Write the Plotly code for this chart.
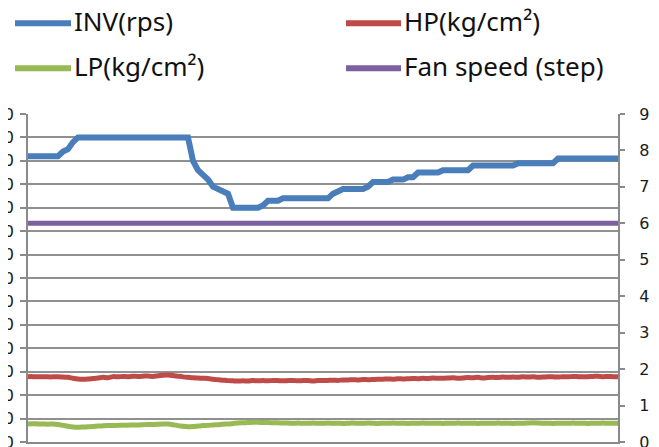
import plotly.graph_objects as go

# ---- data ----
inv_rps = ([122] * 7 + [124, 125, 128] + [130] * 23 +
           [120, 116, 114, 112, 109, 108, 107, 106] + [100] * 6 + [101] + [103] * 3 +
           [104] * 10 + [106, 107] + [108] * 5 + [109] + [111] * 4 + [112] * 3 +
           [113] * 2 + [115] * 5 + [116] * 6 + [118] * 9 + [119] * 8 + [121] * 13)

hp_kgcm2 = [27.9, 27.9, 27.8, 27.9, 27.8, 27.8, 27.9, 27.7, 27.6,
            27.2, 26.9, 26.8, 26.9,
            27.1, 27.3, 27.6, 27.4, 27.9,
            27.8, 28.0, 27.9, 28.1, 28.0, 28.1, 28.2, 28.0, 28.3, 28.5, 28.6,
            28.4, 28.1, 27.8, 27.6, 27.4, 27.3, 27.2,
            27.1, 26.8, 26.6, 26.4, 26.2, 26.1, 26.0,
            26.1, 26.0, 26.2, 26.1, 26.2, 26.1, 26.3, 26.2, 26.1, 26.2,
            26.3, 26.1, 26.2, 26.2, 26.0, 26.2,
            26.2, 26.3, 26.4, 26.3, 26.5, 26.5, 26.6, 26.5, 26.7, 26.6, 26.7, 26.8,
            26.8, 26.9, 26.8, 27.0, 26.9, 27.0, 27.1, 27.0, 27.2, 27.1, 27.3, 27.2, 27.2,
            27.3, 27.4, 27.2, 27.3, 27.5, 27.4, 27.6, 27.3, 27.5, 27.6, 27.5, 27.7, 27.6,
            27.7, 27.6, 27.8, 27.7, 27.8, 27.6, 27.7, 27.9, 27.8, 27.7, 27.9, 27.8, 28.0,
            27.9, 27.8, 27.9, 28.0, 28.1, 27.9, 28.0, 27.9, 27.8]

lp_kgcm2 = [7.7, 7.8, 7.7, 7.7, 7.6, 7.7, 7.5,
            7.1, 6.7, 6.4, 6.3,
            6.4, 6.5, 6.6, 6.8, 6.9, 7.0, 7.0, 7.1, 7.2, 7.2, 7.3, 7.3,
            7.4, 7.5, 7.5, 7.6, 7.7, 7.7,
            7.4, 7.0, 6.7, 6.5,
            6.6, 6.8, 7.0, 7.1, 7.3, 7.4, 7.6, 7.7,
            7.9, 8.1, 8.2, 8.3, 8.4,
            8.4, 8.3, 8.3, 8.2, 8.2, 8.1, 8.1, 8.0, 8.1, 8.0, 8.0, 8.1, 8.0,
            8.0, 8.1, 8.0, 8.0, 7.9, 8.0, 8.1, 8.0, 8.0, 8.1,
            8.0, 7.9, 8.0, 8.0, 8.1, 8.0, 8.0, 7.9, 8.0, 8.0,
            8.1, 8.0, 8.0, 8.0, 7.9, 8.0, 8.0, 8.1, 8.0, 8.0,
            8.0, 7.9, 8.0, 8.0, 8.0, 8.1, 8.0, 8.0, 7.9, 8.0,
            8.0, 8.1, 8.2, 8.1, 8.0, 8.0, 7.9, 8.0, 8.0, 8.0,
            8.1, 8.0, 8.0, 7.9, 8.0, 8.0, 8.1, 8.0, 8.0, 8.0]

fan_step = [6] * 119

left_ticks = list(range(0, 141, 10))
right_ticks = list(range(0, 10))

names = ["INV(rps)", "HP(kg/cm²)", "LP(kg/cm²)", "Fan speed (step)"]
colors = ["#4a7ebb", "#be4b48", "#98b954", "#7d60a0"]
widths = [6, 5, 5, 5]

# page body has an 8px margin, so figure coordinates = page coordinates - 8
OFF = 8
W, H = 659 - OFF, 447 - OFF
L, R, T, B = 28 - OFF, 618 - OFF, 114 - OFF, 442 - OFF

fig = go.Figure()
series = [(inv_rps, "y", "linear"), (hp_kgcm2, "y", "spline"),
          (lp_kgcm2, "y", "spline"), (fan_step, "y2", "linear")]
for (vals, ax, shp), nm, col, lw in zip(series, names, colors, widths):
    fig.add_trace(go.Scatter(x=list(range(len(vals))), y=vals, name=nm, yaxis=ax,
                             mode="lines",
                             line=dict(color=col, width=lw, shape=shp, smoothing=0.6),
                             showlegend=False))

grid = "#909090"
axc = "#8a8a8a"
tickfont = dict(family="DejaVu Sans", size=16, color="#1a1a1a")

fig.update_layout(
    width=W, height=H,
    margin=dict(l=L, r=W - R, t=T, b=H - B, pad=0, autoexpand=False),
    paper_bgcolor="white", plot_bgcolor="white",
    xaxis=dict(range=[0, len(inv_rps) - 1], showgrid=False, zeroline=False,
               showticklabels=False, showline=True, linecolor=axc, linewidth=2,
               ticks="", automargin=False),
    yaxis=dict(range=[0, 140], tickvals=left_ticks, ticktext=[str(v) for v in left_ticks],
               showgrid=True, gridcolor=grid, gridwidth=1.8, zeroline=False,
               showline=True, linecolor=axc, linewidth=2, ticks="outside",
               ticklen=6, tickcolor=axc, tickwidth=1.8, tickfont=tickfont,
               ticklabelstandoff=3, ticklabeloverflow="allow", automargin=False),
    yaxis2=dict(range=[0, 9], tickvals=right_ticks, overlaying="y", side="right",
                showgrid=False, zeroline=False, showline=True, linecolor=axc,
                linewidth=2, ticks="outside", ticklen=5, tickcolor=axc, tickwidth=1.8,
                tickfont=tickfont, ticklabelstandoff=11, ticklabeloverflow="allow",
                automargin=False),
)

# ---- legend, drawn in two columns as in the reference (page pixel positions) ----
def px(xp):
    return (xp - OFF - L) / (R - L)

def py(yp):
    return (B - (yp - OFF)) / (B - T)

legend_pos = [(15, 71, 23.3), (346, 401, 23.3), (15, 71, 68.3), (346, 401, 68.3)]
for nm, col, (x0, x1, yy) in zip(names, colors, legend_pos):
    fig.add_shape(type="line", xref="paper", yref="paper",
                  x0=px(x0), x1=px(x1), y0=py(yy), y1=py(yy),
                  line=dict(color=col, width=6))
    fig.add_annotation(text=nm, xref="paper", yref="paper",
                       x=px(x1 + 1), y=py(yy - 2), xanchor="left", yanchor="middle",
                       showarrow=False,
                       font=dict(family="Noto Sans", size=26, color="#111111"))

fig.write_html("out.html")
